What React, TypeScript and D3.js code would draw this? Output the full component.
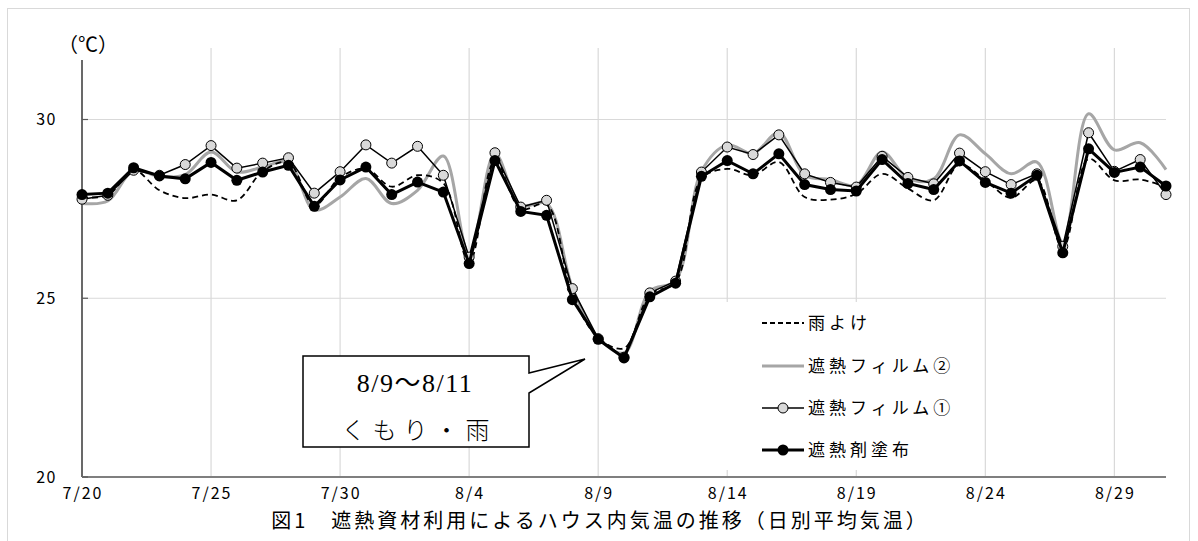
import React from "react";
import * as d3 from "d3";

const dates: string[] = [
  "7/20","7/21","7/22","7/23","7/24","7/25","7/26","7/27","7/28","7/29","7/30","7/31",
  "8/1","8/2","8/3","8/4","8/5","8/6","8/7","8/8","8/9","8/10","8/11","8/12","8/13","8/14",
  "8/15","8/16","8/17","8/18","8/19","8/20","8/21","8/22","8/23","8/24","8/25","8/26","8/27",
  "8/28","8/29","8/30","8/31",
];

const ameyoke: number[] = [
  27.83, 27.88, 28.58, 28.02, 27.80, 27.90, 27.74, 28.55, 28.80, 27.60, 28.38, 28.62,
  28.12, 28.44, 28.22, 26.00, 28.85, 27.50, 27.62, 25.10, 23.90, 23.60, 25.10, 25.45,
  28.34, 28.62, 28.44, 28.81, 27.83, 27.76, 27.92, 28.48, 28.07, 27.74, 28.74, 28.30,
  27.81, 28.30, 26.40, 28.90, 28.30, 28.32, 28.11,
];

const film2: number[] = [
  27.65, 27.72, 28.58, 28.40, 28.46, 29.09, 28.53, 28.67, 28.80, 27.47, 27.83, 28.35,
  27.65, 28.02, 28.98, 26.20, 29.04, 27.60, 27.65, 25.30, 23.90, 23.47, 25.20, 25.50,
  28.55, 29.29, 29.05, 29.63, 28.44, 28.32, 28.16, 29.09, 28.35, 28.34, 29.57, 29.04,
  28.48, 28.81, 26.57, 30.16, 29.15, 29.35, 28.60,
];

const film1: number[] = [
  27.77, 27.88, 28.58, 28.44, 28.74, 29.27, 28.64, 28.78, 28.93, 27.94, 28.54, 29.29,
  28.78, 29.25, 28.44, 26.15, 29.07, 27.55, 27.74, 25.27, 23.87, 23.35, 25.15, 25.48,
  28.53, 29.23, 29.02, 29.57, 28.48, 28.24, 28.11, 28.97, 28.38, 28.20, 29.06, 28.54,
  28.18, 28.48, 26.45, 29.63, 28.55, 28.88, 27.90,
];

const toryo: number[] = [
  27.90, 27.94, 28.65, 28.42, 28.34, 28.80, 28.30, 28.53, 28.72, 27.57, 28.31, 28.67,
  27.90, 28.25, 27.97, 25.97, 28.85, 27.43, 27.32, 24.96, 23.85, 23.33, 25.04, 25.42,
  28.41, 28.85, 28.48, 29.04, 28.18, 28.04, 28.00, 28.88, 28.21, 28.04, 28.84, 28.24,
  27.94, 28.44, 26.27, 29.18, 28.52, 28.67, 28.14,
];

const yTicks: number[] = [20, 25, 30];
const xTickIdx: number[] = [0, 5, 10, 15, 20, 25, 30, 35, 40];
const legendLabels: string[] = ["雨よけ", "遮熱フィルム②", "遮熱フィルム①", "遮熱剤塗布"];
const calloutLines: string[] = ["8/9～8/11", "くもり・雨"];
const titleText = "図1　遮熱資材利用によるハウス内気温の推移（日別平均気温）";
const unitText = "（℃）";

const W = 1198;
const H = 541;
const left = 82;
const right = 1166;
const top = 48;
const bottom = 477;

const JP = "'Noto Sans CJK JP', 'Liberation Sans', sans-serif";

export default function App() {
  const x = d3.scaleLinear().domain([0, dates.length - 1]).range([left, right]);
  const y = d3.scaleLinear().domain([20, 32]).range([bottom, top]);

  const straight = d3
    .line<number>()
    .x((_, i) => x(i))
    .y((d) => y(d));
  const smooth = d3
    .line<number>()
    .x((_, i) => x(i))
    .y((d) => y(d))
    .curve(d3.curveCatmullRom.alpha(0.5));

  const legX1 = 762;
  const legX2 = 804;
  const legY = [323, 366, 408, 450];

  // callout geometry
  const bx0 = 303, by0 = 356, bx1 = 529, by1 = 447;
  const tipX = 585, tipY = 359;
  const calloutPath = `M${bx0},${by0} L${bx1},${by0} L${bx1},${by0 + 17} L${tipX},${tipY} L${bx1},${by0 + 37} L${bx1},${by1} L${bx0},${by1} Z`;

  return (
    <svg
      width={W}
      height={H}
      style={{ position: "absolute", left: 0, top: 0, background: "#fff" }}
    >
      <rect x={7.5} y={8.5} width={1182} height={540} fill="#fff" stroke="#d9d9d9" strokeWidth={1} />

      {/* grid */}
      {yTicks.filter((t) => t > 20).map((t) => (
        <line key={"gy" + t} x1={left} x2={right} y1={y(t)} y2={y(t)} stroke="#d9d9d9" strokeWidth={1.2} />
      ))}
      {xTickIdx.filter((i) => i > 0).map((i) => (
        <line key={"gx" + i} x1={x(i)} x2={x(i)} y1={top} y2={bottom} stroke="#d9d9d9" strokeWidth={1.2} />
      ))}

      {/* axes */}
      <line x1={left} x2={left} y1={60} y2={bottom} stroke="#595959" strokeWidth={1.8} />
      <line x1={left} x2={right} y1={bottom} y2={bottom} stroke="#7f7f7f" strokeWidth={1.8} />
      {yTicks.map((t) => (
        <line key={"ty" + t} x1={left} x2={left + 6} y1={y(t)} y2={y(t)} stroke="#595959" strokeWidth={1.2} />
      ))}

      {yTicks.map((t) => (
        <text key={"ly" + t} x={57} y={y(t)} dy="0.36em" textAnchor="end" fontFamily={JP} fontSize={16} letterSpacing={1.5} fill="#000">
          {t}
        </text>
      ))}
      {xTickIdx.map((i) => (
        <text key={"lx" + i} x={x(i) + 1} y={499} textAnchor="middle" fontFamily={JP} fontSize={16} letterSpacing={2} fill="#000">
          {dates[i]}
        </text>
      ))}
      <text x={88} y={52} textAnchor="middle" fontFamily={JP} fontSize={20} fill="#000">
        {unitText}
      </text>

      {/* series */}
      <path d={smooth(film2) || ""} fill="none" stroke="#a6a6a6" strokeWidth={3} />
      <path d={smooth(ameyoke) || ""} fill="none" stroke="#000" strokeWidth={1.8} strokeDasharray="6,4" />
      <path d={straight(film1) || ""} fill="none" stroke="#000" strokeWidth={1.5} />
      {film1.map((v, i) => (
        <circle key={"c1" + i} cx={x(i)} cy={y(v)} r={5} fill="#d9d9d9" stroke="#000" strokeWidth={1} />
      ))}
      <path d={straight(toryo) || ""} fill="none" stroke="#000" strokeWidth={3} />
      {toryo.map((v, i) => (
        <circle key={"c2" + i} cx={x(i)} cy={y(v)} r={5.5} fill="#000" />
      ))}

      {/* legend */}
      <rect x={715} y={302} width={265} height={168} fill="#fff" />
      <line x1={legX1} x2={legX2} y1={legY[0]} y2={legY[0]} stroke="#000" strokeWidth={1.8} strokeDasharray="5,3" />
      <line x1={legX1} x2={legX2} y1={legY[1]} y2={legY[1]} stroke="#a6a6a6" strokeWidth={3} />
      <line x1={legX1} x2={legX2} y1={legY[2]} y2={legY[2]} stroke="#000" strokeWidth={1.5} />
      <circle cx={(legX1 + legX2) / 2} cy={legY[2]} r={5} fill="#d9d9d9" stroke="#000" strokeWidth={1} />
      <line x1={legX1} x2={legX2} y1={legY[3]} y2={legY[3]} stroke="#000" strokeWidth={3} />
      <circle cx={(legX1 + legX2) / 2} cy={legY[3]} r={5.5} fill="#000" />
      {legendLabels.map((s, i) => (
        <text key={"lg" + i} x={808} y={legY[i]} dy="0.36em" fontFamily={JP} fontSize={17} letterSpacing={4} fill="#000">
          {s}
        </text>
      ))}

      {/* callout */}
      <path d={calloutPath} fill="#fff" stroke="#000" strokeWidth={1.5} />
      <text x={415} y={383} dy="0.36em" textAnchor="middle" fontFamily="'Liberation Serif', 'Noto Sans CJK JP', serif" fontSize={26} letterSpacing={1.5} fill="#000">
        {calloutLines[0]}
      </text>
      <text x={419} y={430} dy="0.36em" textAnchor="middle" fontFamily="'Noto Sans CJK JP', serif" fontWeight={300} fontSize={24} letterSpacing={7} fill="#000">
        {calloutLines[1]}
      </text>

      {/* title */}
      <text x={600} y={521} dy="0.36em" textAnchor="middle" fontFamily={JP} fontSize={20} letterSpacing={3} fill="#000">
        {titleText}
      </text>
    </svg>
  );
}
